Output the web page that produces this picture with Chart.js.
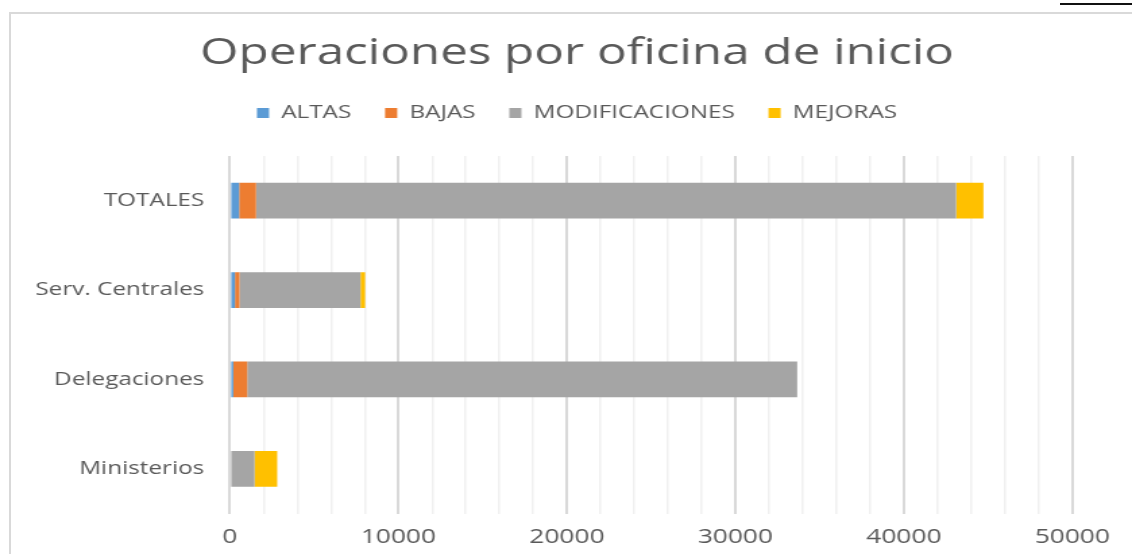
<!DOCTYPE html>
<html>
<head>
<meta charset="utf-8">
<script src="https://cdn.jsdelivr.net/npm/chart.js@4/dist/chart.umd.min.js"></script>
<style>
  html, body { margin: 0; padding: 0; background: #fff; overflow: hidden; }
  #wrap { position: relative; width: 1132px; height: 554px; overflow: hidden; }
  #chart { position: absolute; left: 0; top: 0; transform-origin: 0 0; }
  .frame { position: absolute; left: 9px; top: 12px; width: 1140px; height: 560px;
           border: 2px solid #d9d9d9; box-sizing: border-box; }
  .mark { position: absolute; left: 1060px; top: 3px; width: 72px; height: 2px; background: #111; }
</style>
</head>
<body>
<div id="wrap">
  <div class="frame"></div>
  <div class="mark"></div>
  <canvas id="chart" width="860" height="554"></canvas>
</div>
<script>
// categories, top to bottom as shown
const categories = ['TOTALES', 'Serv. Centrales', 'Delegaciones', 'Ministerios'];
const seriesNames = ['ALTAS', 'BAJAS', 'MODIFICACIONES', 'MEJORAS'];
const altas = [550, 300, 200, 0];
const bajas = [1000, 270, 830, 0];
const modificaciones = [41550, 7180, 32640, 1465];
const mejoras = [1620, 275, 0, 1340];
const xTicks = [0, 10000, 20000, 30000, 40000, 50000];

const colors = ['#5b9bd5', '#ed7d31', '#a5a5a5', '#ffc000'];
const TEXT = '#595959';
const FONT = "'Open Sans', sans-serif";

// the reference text is stretched sideways; draw narrow, then stretch the canvas
const canvas = document.getElementById('chart');
canvas.style.transform = `scaleX(${1132 / 839})`;

// extra room between legend and plot
const legendSpacer = {
  id: 'legendSpacer',
  beforeInit(chart) {
    const fit = chart.legend.fit;
    chart.legend.fit = function () {
      fit.call(this);
      this.height += 24;
    };
  },
};

const values = [altas, bajas, modificaciones, mejoras];

new Chart(canvas, {
  type: 'bar',
  data: {
    labels: categories,
    datasets: seriesNames.map((name, i) => ({
      label: name,
      data: values[i],
      backgroundColor: colors[i],
      borderWidth: 0,
      categoryPercentage: 1,
      barPercentage: 0.4,
    })),
  },
  plugins: [legendSpacer],
  options: {
    responsive: false,
    animation: false,
    indexAxis: 'y',
    layout: { padding: { top: 32, left: 10, right: 14.6, bottom: -7 } },
    plugins: {
      title: {
        display: true,
        text: 'Operaciones por oficina de inicio',
        color: TEXT,
        font: { family: FONT, size: 36.6, weight: 'normal', lineHeight: 1.2 },
        padding: { top: 0, bottom: 3 },
      },
      legend: {
        display: true,
        position: 'top',
        labels: {
          color: TEXT,
          font: { family: FONT, size: 18 },
          boxWidth: 9,
          boxHeight: 10,
          padding: 25,
        },
      },
      tooltip: { enabled: false },
    },
    scales: {
      x: {
        stacked: true,
        min: 0,
        max: 50000,
        afterBuildTicks: (axis) => {
          const t = [];
          for (let v = 0; v <= 50000; v += 2000) t.push({ value: v });
          axis.ticks = t;
        },
        ticks: {
          autoSkip: false,
          maxRotation: 0,
          color: TEXT,
          font: { family: FONT, size: 19.5 },
          padding: 12,
          callback: (v) => (xTicks.includes(v) ? String(v) : ''),
        },
        grid: {
          drawTicks: false,
          color: (ctx) => (ctx.tick && xTicks.includes(ctx.tick.value) ? '#d9d9d9' : '#f0f0f0'),
          lineWidth: (ctx) => (ctx.tick && xTicks.includes(ctx.tick.value) ? 2 : 1.5),
        },
        border: { display: false },
      },
      y: {
        stacked: true,
        afterFit: (axis) => { axis.width = 160.4; },
        ticks: {
          color: TEXT,
          font: { family: FONT, size: 18 },
          padding: 19,
        },
        grid: { display: false, drawTicks: false },
        border: { display: false },
      },
      // empty axis on the right, only to keep the title centred like the original
      spacer: {
        axis: 'y',
        type: 'linear',
        position: 'right',
        afterFit: (axis) => { axis.width = 50.6; },
        ticks: { display: false },
        grid: { display: false, drawTicks: false },
        border: { display: false },
      },
    },
  },
});
</script>
</body>
</html>
